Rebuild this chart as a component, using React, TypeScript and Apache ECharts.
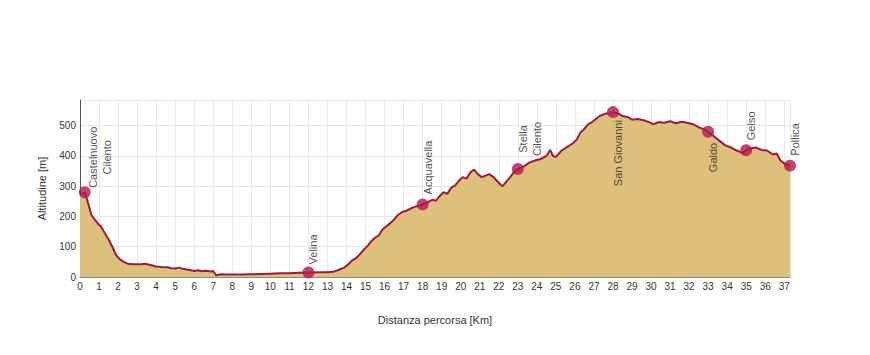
import React, { useEffect, useRef } from "react";
import * as echarts from "echarts";

// Elevation profile: distance (km) and altitude (m)
const distanceKm = [
  0, 0.25, 0.4, 0.6, 0.8, 1.0, 1.1, 1.3, 1.5, 1.7, 1.9, 2.1, 2.3, 2.5, 2.8, 3.0, 3.2, 3.4, 3.6, 3.8,
  4.0, 4.3, 4.6, 4.8, 5.0, 5.2, 5.4, 5.7, 6.0, 6.2, 6.4, 6.6, 6.9, 7.0, 7.15, 7.4, 7.7, 8.0, 8.5, 9.0,
  9.5, 10.0, 10.5, 11.0, 11.5, 12.0, 12.5, 13.0, 13.3, 13.6, 13.9, 14.1, 14.3, 14.5, 14.7, 14.9, 15.1,
  15.3, 15.5, 15.7, 15.9, 16.1, 16.3, 16.5, 16.7, 16.9, 17.1, 17.3, 17.5, 17.8, 18.0, 18.3, 18.5, 18.7,
  18.9, 19.1, 19.3, 19.5, 19.7, 19.9, 20.1, 20.3, 20.5, 20.7, 20.9, 21.1, 21.3, 21.5, 21.7, 21.9, 22.1,
  22.2, 22.4, 22.6, 22.8, 23.0, 23.3, 23.6, 23.9, 24.2, 24.5, 24.7, 24.85, 25.0, 25.3, 25.6, 25.9, 26.1,
  26.3, 26.5, 26.7, 26.9, 27.1, 27.3, 27.6, 27.8, 28.0, 28.3, 28.5, 28.8, 29.0, 29.3, 29.6, 29.9, 30.1,
  30.4, 30.7, 31.0, 31.3, 31.6, 31.9, 32.2, 32.5, 32.8, 33.0, 33.3, 33.6, 33.9, 34.2, 34.5, 34.8, 35.0,
  35.2, 35.5, 35.8, 36.1, 36.4, 36.6, 36.8, 37.0, 37.3,
];
const altitudeM = [
  272, 280, 250, 205, 188, 172, 168, 145, 125, 100, 72, 58, 50, 44, 42, 42, 42, 44, 41, 38,
  35, 33, 32, 29, 28, 31, 27, 24, 20, 22, 19, 21, 18, 20, 6, 9, 8, 8, 8, 9,
  10, 11, 12, 12, 14, 15, 16, 16, 17, 24, 32, 42, 55, 62, 75, 90, 102,
  118, 130, 138, 158, 168, 178, 190, 205, 214, 218, 224, 230, 236, 240, 248, 255, 252,
  268, 280, 275, 295, 302, 318, 330, 325, 345, 355, 340, 330, 335, 340, 332, 318, 305,
  300, 315, 330, 348, 357, 365, 378, 385, 390, 400, 420, 400, 397, 418, 430, 442, 455,
  478, 490, 505, 512, 522, 532, 540, 540, 545, 540, 532, 528, 520, 522, 518, 512, 505,
  512, 510, 515, 508, 513, 510, 505, 495, 488, 480, 465, 450, 435, 428, 418, 410, 419,
  425, 428, 420, 418, 405, 408, 385, 375, 368,
];

// Waypoints
const waypointNames = [
  "Castelnuovo\nCilento", "Velina", "Acquavella", "Stella\nCilento",
  "San Giovanni", "Galdo", "Gelso", "Pollica",
];
const waypointKm = [0.25, 12, 18, 23, 28, 33, 35, 37.3];
const waypointAlt = [280, 15, 240, 357, 545, 480, 419, 368];

// Label placement per waypoint (relative to the 12px marker's top-left)
const labelPlacement: Record<string, { position: [number, number]; align: string }> = {
  "Castelnuovo\nCilento": { position: [7, -29], align: "center" },
  Velina: { position: [4, -2], align: "left" },
  Acquavella: { position: [4, -4], align: "left" },
  "Stella\nCilento": { position: [4, -24], align: "center" },
  "San Giovanni": { position: [4, 14], align: "right" },
  Galdo: { position: [4, 17], align: "right" },
  Gelso: { position: [4, -4], align: "left" },
  Pollica: { position: [4, -4], align: "left" },
};

const FONT = "'Liberation Sans', Arial, sans-serif";

export default function App() {
  const ref = useRef<HTMLDivElement>(null);

  useEffect(() => {
    if (!ref.current) return;
    const chart = echarts.init(ref.current, undefined, { renderer: "svg" });

    const profile = distanceKm.map((d, i) => [d, altitudeM[i]]);
    const points = waypointNames.map((name, i) => {
      const p = labelPlacement[name];
      return {
        name,
        value: [waypointKm[i], waypointAlt[i]],
        label: {
          show: true,
          formatter: name,
          position: p.position,
          align: p.align,
          verticalAlign: "top",
          rotate: 90,
          fontSize: 11,
          lineHeight: 14,
          color: "#222",
          fontFamily: FONT,
        },
      };
    });

    chart.setOption({
      animation: false,
      textStyle: { fontFamily: FONT },
      grid: { left: 72, right: 72, top: 92, bottom: 70, containLabel: false },
      xAxis: {
        type: "value",
        min: 0,
        max: 37.3,
        interval: 1,
        name: "Distanza percorsa [Km]",
        nameLocation: "middle",
        nameGap: 37,
        nameTextStyle: { fontSize: 11, color: "#333", fontFamily: FONT },
        axisLine: { show: true, lineStyle: { color: "#888", width: 1 } },
        axisTick: { show: false },
        axisLabel: {
          fontSize: 10,
          color: "#333",
          margin: 4,
          showMaxLabel: false,
          fontFamily: FONT,
        },
        splitLine: { show: true, lineStyle: { color: "#e8e8e8", width: 1 } },
      },
      yAxis: {
        type: "value",
        min: 0,
        max: 585,
        interval: 100,
        name: "Altitudine [m]",
        nameLocation: "middle",
        nameGap: 33,
        nameTextStyle: { fontSize: 11, color: "#333", fontFamily: FONT },
        axisLine: { show: true, lineStyle: { color: "#555", width: 1 } },
        axisTick: { show: false },
        axisLabel: {
          fontSize: 10,
          color: "#333",
          margin: 4,
          showMaxLabel: false,
          fontFamily: FONT,
        },
        splitLine: { show: true, lineStyle: { color: "#e8e8e8", width: 1 } },
      },
      series: [
        {
          type: "line",
          data: profile,
          showSymbol: false,
          symbol: "none",
          lineStyle: { color: "#9b1b3c", width: 2 },
          areaStyle: { color: "#dcc07c", opacity: 1 },
          z: 2,
        },
        {
          type: "scatter",
          data: points,
          symbol: "circle",
          symbolSize: 12,
          itemStyle: { color: "#b3174a" },
          z: 5,
        },
      ],
    });

    return () => chart.dispose();
  }, []);

  return <div ref={ref} style={{ width: 854, height: 339 }} />;
}
